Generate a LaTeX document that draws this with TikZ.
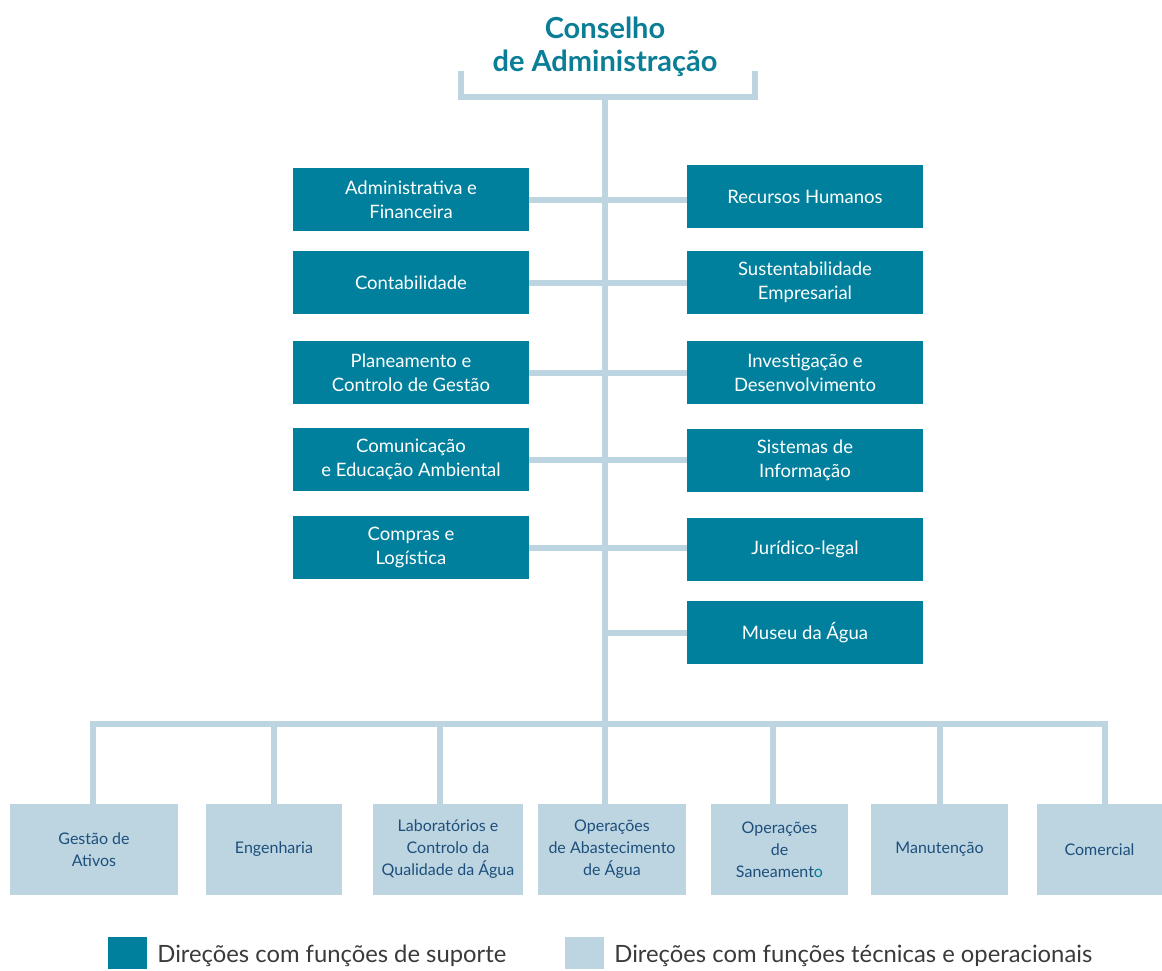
\documentclass[tikz,border=0pt]{standalone}
\usepackage{fontspec}
\setmainfont{Lato}
\usetikzlibrary{positioning,calc}

\definecolor{darkteal}{HTML}{00809C}
\definecolor{titleteal}{HTML}{0B7E97}
\definecolor{paleblue}{HTML}{BDD5E1}
\definecolor{navytext}{HTML}{1D4F7C}
\definecolor{legendgray}{HTML}{3A3A3A}

\tikzset{
  title/.style={text=titleteal, align=center, font=\bfseries\fontsize{29}{33}\selectfont},
  supbox/.style={fill=darkteal, text=white, minimum width=236, minimum height=63, inner sep=0pt, align=center, font=\fontsize{18.5}{24}\selectfont},
  opbox/.style={fill=paleblue, text=navytext, minimum height=91, inner sep=0pt, align=center, font=\fontsize{16}{22}\selectfont},
  link/.style={draw=paleblue, line width=6pt},
  keytext/.style={text=legendgray, inner sep=0pt, anchor=west, font=\fontsize{23.8}{28}\selectfont},
}

\begin{document}
\begin{tikzpicture}[x=1pt, y=-1pt]
    \useasboundingbox (0,0) rectangle (1162,970);

    % board
    \node[title] (cons) at (605,47) {Conselho\\de Administração};
    \coordinate (top) at (605,97);
    \coordinate (brL) at (461,71);
    \coordinate (brR) at (755,71);
    \coordinate (bus) at (605,724);

    % support directions, left column
    \node[supbox] (adm) at (411,199.5) {Administrativa e\\Financeira};
    \node[supbox] (cont) at (411,282.5) {Contabilidade};
    \node[supbox] (plan) at (411,372.5) {Planeamento e\\Controlo de Gestão};
    \node[supbox] (comu) at (411,459.5) {Comunicação\\e Educação Ambiental};
    \node[supbox] (compr) at (411,547.5) {Compras e\\Logística};

    % support directions, right column
    \node[supbox] (rh) at (805,196.5) {Recursos Humanos};
    \node[supbox] (sust) at (805,282.5) {Sustentabilidade\\Empresarial};
    \node[supbox] (inv) at (805,372.5) {Investigação e\\Desenvolvimento};
    \node[supbox] (sis) at (805,460.5) {Sistemas de\\Informação};
    \node[supbox] (jur) at (805,549.5) {Jurídico-legal};
    \node[supbox] (mus) at (805,632.5) {Museu da Água};

    % technical and operational directions
    \node[opbox, minimum width=168] (gest) at (94,849.5) {Gestão de\\Ativos};
    \node[opbox, minimum width=136] (eng) at (274,849.5) {Engenharia};
    \node[opbox, minimum width=150] (lab) at (448,849.5) {Laboratórios e\\Controlo da\\Qualidade da Água};
    \node[opbox, minimum width=148] (abast) at (612,849.5) {Operações\\de Abastecimento\\de Água};
    \node[opbox, minimum width=137] (san) at (779.5,849.5) {Operações\\de\\Saneament\textcolor{darkteal}{o}};
    \node[opbox, minimum width=137] (man) at (939.5,849.5) {Manutenção};
    \node[opbox, minimum width=125] (com) at (1099.5,849.5) {Comercial};

    % draw bracket and trunk
    \draw[link] (brL) |- (top) -| (brR);
    \draw[link] (top) -- (top |- abast.north);

    % draw branches
    \foreach \l/\r in {adm/rh, cont/sust, plan/inv, comu/sis, compr/jur}
    \draw[link] (\l.east) -- (\l.east -| \r.west);
    \draw[link] (mus.west) -- (mus.west -| top);

    \foreach \b/\dx in {gest/-1, eng/0, lab/-8, san/-7, man/0, com/5}
    \draw[link] ([xshift=\dx pt]\b.north) |- (bus);

    % legend
    \node[fill=darkteal, minimum width=39, minimum height=32, inner sep=0pt] (keysup) at (127.5,953) {};
    \node[keytext, right=10pt of keysup, yshift=-3pt] (txtsup) {Direções com funções de suporte};
    \node[fill=paleblue, minimum width=39, minimum height=32, inner sep=0pt] (keyop) at (584.5,953) {};
    \node[keytext, right=10pt of keyop, yshift=-3pt] (txtop) {Direções com funções técnicas e operacionais};

\end{tikzpicture}
\end{document}
